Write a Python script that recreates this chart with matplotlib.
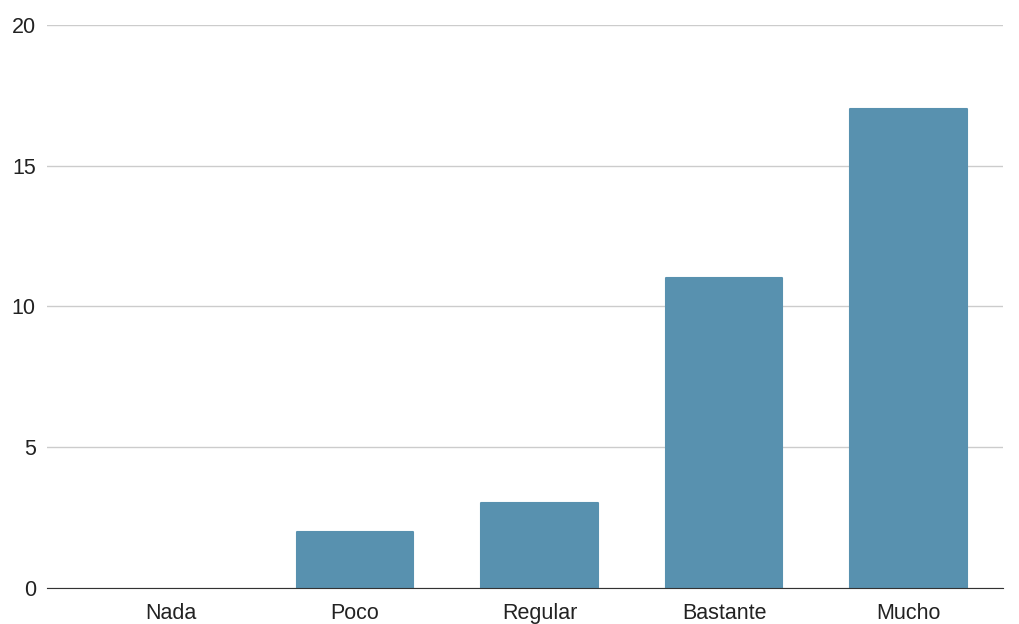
import matplotlib
matplotlib.use("Agg")
import matplotlib.pyplot as plt

categories = ["Nada", "Poco", "Regular", "Bastante", "Mucho"]
counts = [0, 2, 3, 11, 17]
yticks = [0, 5, 10, 15, 20]

plt.rcParams["font.family"] = ["Liberation Sans", "DejaVu Sans"]

fig = plt.figure(figsize=(10.19, 6.24), dpi=100)
ax = fig.add_axes([0.046, 0.058, 0.938, 0.902])

x = range(len(categories))
bars = ax.bar(x, counts, width=0.63, color="#5891af", edgecolor="#5891af",
              linewidth=1.5, zorder=3)
for b, v in zip(bars, counts):
    b.set_joinstyle("round")
    if v == 0:
        b.set_linewidth(0)

ax.set_xlim(-0.67, 4.51)
ax.set_ylim(0, 20)
ax.set_yticks(yticks)
ax.set_xticks(list(x))
ax.set_xticklabels(categories)
ax.yaxis.grid(True, color="#cccccc", linewidth=1)
ax.set_axisbelow(True)
for side in ["top", "right", "left"]:
    ax.spines[side].set_visible(False)
ax.spines["bottom"].set_color("#333333")
ax.spines["bottom"].set_zorder(4)
ax.tick_params(axis="both", length=0, labelsize=15.5, colors="#222222")
ax.tick_params(axis="y", pad=8)
ax.tick_params(axis="x", pad=11)

fig.savefig("out.png", dpi=100)
